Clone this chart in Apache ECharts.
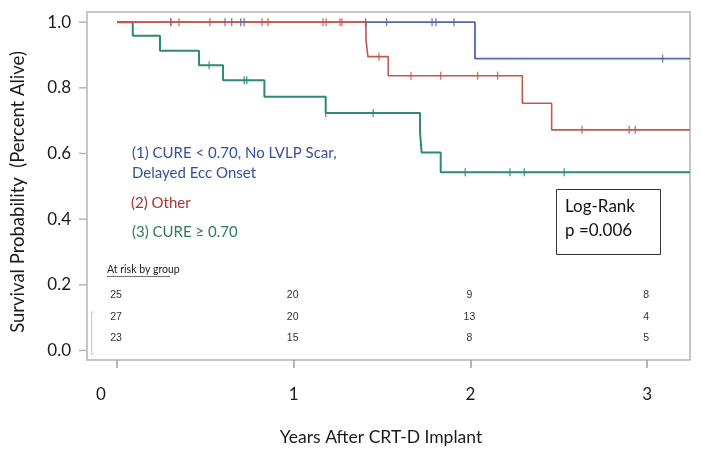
<!DOCTYPE html>
<html>
<head>
<meta charset="utf-8">
<script src="https://cdn.jsdelivr.net/npm/echarts@6/dist/echarts.min.js"></script>
<style>
  html, body { margin: 0; padding: 0; background: #fff; }
  #km { width: 701px; height: 449px; }
</style>
</head>
<body>
<div id="km"></div>
<script>
// Kaplan-Meier curves (years, survival)
const years = [0, 1, 2, 3];
const yTicks = [0, 0.2, 0.4, 0.6, 0.8, 1.0];

const blueTimes = [0, 2.026, 3.243];
const blueSurv = [1.0, 0.889, 0.889];
const blueCensor = [0.304, 0.611, 0.649, 0.700, 0.719, 1.407, 1.526, 1.783, 1.805, 1.907, 3.088];

const redTimes = [0, 1.409, 1.420, 1.535, 2.294, 2.460, 3.243];
const redSurv = [1.0, 0.946, 0.895, 0.837, 0.753, 0.672, 0.672];
const redCensor = [0.304, 0.351, 0.526, 0.821, 0.855, 1.166, 1.183, 1.262, 1.273, 1.483, 1.664, 1.832, 2.041, 2.154, 2.632, 2.899, 2.933];

const greenTimes = [0, 0.089, 0.243, 0.464, 0.600, 0.834, 1.181, 1.715, 1.724, 1.832, 3.243];
const greenSurv = [1.0, 0.959, 0.913, 0.869, 0.823, 0.773, 0.723, 0.664, 0.603, 0.543, 0.543];
const greenCensor = [0.521, 0.720, 0.734, 1.181, 1.450, 1.971, 2.224, 2.305, 2.531];

// number at risk at 0,1,2,3 years
const atRisk1 = [25, 20, 9, 8];
const atRisk2 = [27, 20, 13, 4];
const atRisk3 = [23, 15, 8, 5];

const BLUE = '#5468ad';
const RED = '#c4574b';
const GREEN = '#2b8a76';
const TICK = '#a0a0a0';
const FONT = 'Lato';
const X_MIN = -0.170;
const X_MAX = 3.243;

const chart = echarts.init(document.getElementById('km'));

// survival value of a step curve at time t
function survAt(times, surv, t) {
  let s = surv[0];
  for (let i = 0; i < times.length; i++) {
    if (times[i] <= t) s = surv[i];
  }
  return s;
}

function curve(times, surv) {
  return times.map((t, i) => [t, surv[i]]);
}

function marks(cens, times, surv) {
  return cens.map(t => [t, survAt(times, surv, t)]);
}

function lineSeries(times, surv, color, w) {
  return {
    type: 'line',
    step: 'end',
    data: curve(times, surv),
    showSymbol: false,
    lineStyle: { color: color, width: w },
    silent: true,
    z: 3
  };
}

function censorSeries(cens, times, surv, color) {
  return {
    type: 'scatter',
    data: marks(cens, times, surv),
    symbol: 'rect',
    symbolSize: [1.4, 8],
    itemStyle: { color: color },
    silent: true,
    z: 4
  };
}

const option = {
  animation: false,
  grid: { left: 87, right: 11, top: 12, bottom: 89, show: true, borderColor: '#b4b4b4', borderWidth: 1.5 },
  xAxis: {
    type: 'value',
    min: X_MIN,
    max: X_MAX,
    axisLine: { show: false, onZero: false },
    splitLine: { show: false },
    axisTick: { show: true, customValues: years, length: 8, lineStyle: { color: TICK, width: 1.5 } },
    axisLabel: {
      customValues: years,
      margin: 26,
      fontFamily: FONT,
      fontSize: 17,
      color: '#1a1a1a',
      formatter: v => (v === 0 ? '{z|0}' : String(v)),
      rich: { z: { padding: [0, 32, 0, 0], fontFamily: FONT, fontSize: 17, color: '#1a1a1a' } }
    }
  },
  yAxis: {
    type: 'value',
    min: -0.029,
    max: 1.031,
    axisLine: { show: false, onZero: false },
    splitLine: { show: false },
    axisTick: { show: false },
    axisLabel: {
      customValues: yTicks,
      margin: 16,
      fontFamily: FONT,
      fontSize: 17,
      color: '#1a1a1a',
      formatter: v => v.toFixed(1)
    }
  },
  series: [
    lineSeries(greenTimes, greenSurv, GREEN, 2),
    lineSeries(blueTimes, blueSurv, BLUE, 1.8),
    lineSeries(redTimes, redSurv, RED, 1.6),
    censorSeries(greenCensor, greenTimes, greenSurv, GREEN),
    censorSeries(blueCensor, blueTimes, blueSurv, BLUE),
    censorSeries(redCensor, redTimes, redSurv, RED),
    {
      // y-axis tick marks, just outside the left edge of the box
      type: 'scatter',
      data: yTicks.map(v => [X_MIN, v]),
      symbol: 'rect',
      symbolSize: [7, 1.5],
      symbolOffset: [-4.5, 0],
      itemStyle: { color: TICK },
      clip: false,
      silent: true,
      z: 5
    }
  ]
};
chart.setOption(option);

// text and at-risk table
const txt = (x, y, s, size, color) => ({
  type: 'text', x: x, y: y,
  style: { text: s, fontFamily: FONT, fontSize: size, fill: color, verticalAlign: 'middle' }
});

const graphics = [
  { type: 'text', x: 18, y: 192, rotation: Math.PI / 2,
    style: { text: 'Survival Probability  (Percent Alive)', fontFamily: FONT, fontSize: 18.5, fill: '#1a1a1a', align: 'center', verticalAlign: 'middle' } },
  { type: 'text', x: 381, y: 437,
    style: { text: 'Years After CRT-D Implant', fontFamily: FONT, fontSize: 17.5, fill: '#1a1a1a', align: 'center', verticalAlign: 'middle' } },
  txt(132, 153, '(1) CURE < 0.70, No LVLP Scar,', 15, '#34509a'),
  txt(132, 173, 'Delayed Ecc Onset', 15, '#34509a'),
  txt(131, 203, '(2) Other', 15, '#a3362c'),
  txt(132, 232, '(3) CURE \u2265 0.70', 15, '#2e7a5c'),
  { type: 'rect', shape: { x: 556.5, y: 189.5, width: 104, height: 65 }, style: { fill: '#fff', stroke: '#333', lineWidth: 1 } },
  txt(565, 207, 'Log-Rank', 17, '#111'),
  txt(565, 231, 'p =0.006', 17, '#111'),
  txt(107, 270, 'At risk by group', 10.5, '#222'),
  { type: 'rect', shape: { x: 107, y: 276, width: 63, height: 0.8 }, style: { fill: '#444' } },
  { type: 'polyline', shape: { points: [[94, 312], [91.5, 312], [91.5, 354], [94, 354]] }, style: { stroke: '#c8c8c8', lineWidth: 1, fill: null } }
];

const rows = [atRisk1, atRisk2, atRisk3];
const rowY = [295, 317, 338];
rows.forEach((row, r) => {
  row.forEach((n, i) => {
    const px = chart.convertToPixel({ gridIndex: 0 }, [years[i], 0])[0];
    graphics.push({
      type: 'text', x: px - 1, y: rowY[r],
      style: { text: String(n), fontFamily: 'Liberation Sans', fontSize: 10.5, fill: '#333', align: 'center', verticalAlign: 'middle' }
    });
  });
});

chart.setOption({ graphic: graphics });
window.addEventListener('resize', chart.resize);
</script>
</body>
</html>
